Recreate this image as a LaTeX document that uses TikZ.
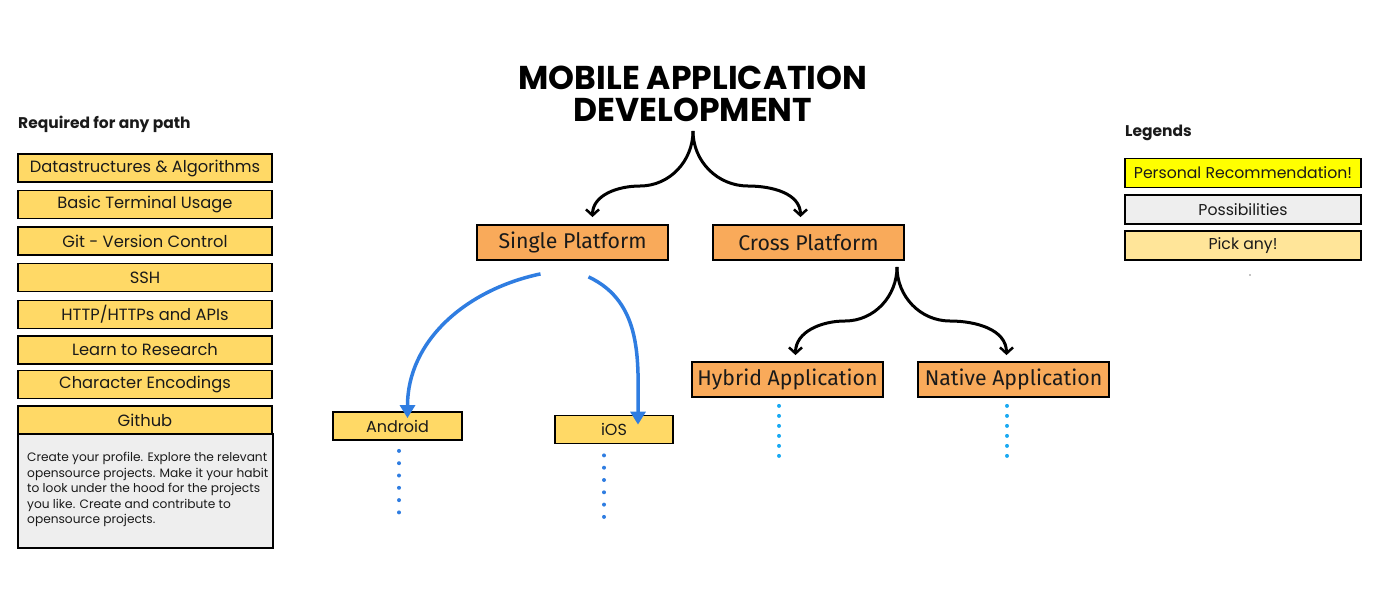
\documentclass[tikz,border=0pt]{standalone}
\usepackage{fontspec}
\setmainfont{Poppins}
\newfontfamily\boxfont{Fira Sans}
\usetikzlibrary{arrows.meta,calc}
\definecolor{reqyellow}{HTML}{FFD966}
\definecolor{orangebox}{HTML}{F9AA5A}
\definecolor{graybox}{HTML}{EEEEEE}
\definecolor{pickany}{HTML}{FFE599}
\definecolor{recyellow}{HTML}{FFFF00}
\definecolor{bluearrow}{HTML}{2F7DE1}
\definecolor{lightdots}{HTML}{19A9F2}
\definecolor{textdark}{HTML}{1A1A1A}
\tikzset{
  basebox/.style={draw=black, line width=1.8pt, inner sep=0pt, text=textdark, anchor=center},
  reqbox/.style={basebox, fill=reqyellow, minimum width=254pt, minimum height=28pt, font=\fontsize{16.3}{18}\selectfont},
  legbox/.style={basebox, minimum width=236pt, minimum height=29pt, font=\fontsize{15.7}{18}\selectfont},
  platbox/.style={basebox, fill=orangebox, minimum width=191pt, minimum height=35pt, font=\boxfont\fontsize{21.3}{23}\selectfont},
  osbox/.style={basebox, fill=reqyellow, minimum height=28pt, font=\fontsize{16}{18}\selectfont},
  heading/.style={anchor=west, inner sep=0pt, text=textdark, font=\bfseries\fontsize{15.5}{17}\selectfont},
  branch/.style={line width=3pt, black, -{Straight Barb[length=6pt,width=13pt,line width=2.5pt]}},
  bluearr/.style={line width=3.5pt, bluearrow, -{Triangle[length=13pt,width=15pt]}},
  dotline/.style={line width=4pt, line cap=round, dash pattern=on 0pt off #1},
}
\begin{document}
\begin{tikzpicture}[x=1pt,y=-1pt]
\useasboundingbox (0,0) rectangle (1382,600);

% ---- left column ----
\node[heading] (req) at (18,124) {Required for any path};
\node[reqbox] (ds)   at (145,168) {Datastructures \& Algorithms};
\node[reqbox] (term) at (145,204.5) {Basic Terminal Usage};
\node[reqbox] (git)  at (145,241) {Git - Version Control};
\node[reqbox] (ssh)  at (145,277.5) {SSH};
\node[reqbox] (http) at (145,314.5) {HTTP/HTTPs and APIs};
\node[reqbox] (res)  at (145,350) {Learn to Research};
\node[reqbox] (enc)  at (145,384.5) {Character Encodings};
\node[basebox, fill=graybox, minimum width=255pt, minimum height=114pt] (ghdesc) at (145.5,491) {};
\node[reqbox] (gh)   at (145,420) {Github};
\node[anchor=north west, inner sep=0pt, text=textdark, align=left,
      font=\fontsize{12.2}{15.5}\selectfont] (ghtext) at (27,452)
  {Create your profile. Explore the relevant\\
   opensource projects. Make it your habit\\
   to look under the hood for the projects\\
   you like. Create and contribute to\\
   opensource projects.};

% ---- title ----
\node[align=center, inner sep=0pt, text=black, font=\bfseries\fontsize{33}{32}\selectfont] (title) at (693,94)
  {MOBILE APPLICATION\\DEVELOPMENT};
\coordinate (tsplit) at (693,131);
\coordinate (tl) at (640,186);
\coordinate (tr) at (748,186);

% ---- platforms ----
\node[platbox] (single) at (572.5,242.5) {Single Platform};
\node[platbox] (cross)  at (808.5,242.5) {Cross Platform};
\node[platbox] (hybrid) at (787.5,379.5) {Hybrid Application};
\node[platbox] (native) at (1013.5,379.5) {Native Application};

\draw[branch] (tsplit) to[out=-90,in=0] (tl) to[out=180,in=90] ([xshift=20pt,yshift=7pt]single.north);
\draw[branch] (tsplit) to[out=-90,in=180] (tr) to[out=0,in=90] ([xshift=-8pt,yshift=7pt]cross.north);

\coordinate (csplit) at (897,267);
\coordinate (cl) at (845,321);
\coordinate (cr) at (950,321);
\draw[branch] (csplit) to[out=-90,in=0] (cl) to[out=180,in=90] ([xshift=8pt,yshift=6pt]hybrid.north);
\draw[branch] (csplit) to[out=-90,in=180] (cr) to[out=0,in=90] ([xshift=-7pt,yshift=6pt]native.north);

% ---- android / ios ----
\node[osbox, minimum width=129pt] (android) at (397.5,426) {Android};
\node[osbox, minimum width=118pt] (ios) at (614,429.5) {iOS};

\draw[bluearr] ([xshift=-32pt,yshift=-13pt]single.south) to[out=192,in=90] ([xshift=10pt,yshift=-7pt]android.north);
\draw[bluearr] ([xshift=16pt,yshift=-16pt]single.south) to[out=-25,in=90] ([xshift=24pt,yshift=-10pt]ios.north);

% ---- dotted continuations ----
\coordinate (andend) at (399,512.5);
\coordinate (iosend) at (604,517.5);
\coordinate (hybend) at (779,456.5);
\coordinate (natend) at (1007,456.5);
\draw[dotline=12.3pt, bluearrow] ([xshift=1.5pt,yshift=-10pt]android.south) -- (andend);
\draw[dotline=12.3pt, bluearrow] ([xshift=-10pt,yshift=-11pt]ios.south) -- (iosend);
\draw[dotline=10pt, lightdots] ([xshift=-8.5pt,yshift=-8pt]hybrid.south) -- (hybend);
\draw[dotline=10pt, lightdots] ([xshift=-6.5pt,yshift=-8pt]native.south) -- (natend);

% ---- legends ----
\node[heading] (leg) at (1125,133) {Legends};
\node[legbox, fill=recyellow] (lrec)  at (1243,173) {Personal Recommendation!};
\node[legbox, fill=graybox]   (lposs) at (1243,209.5) {Possibilities};
\node[legbox, fill=pickany]   (lpick) at (1243,245.5) {Pick any!};
\fill[black] (1250,275) circle (0.6pt);
\end{tikzpicture}
\end{document}
